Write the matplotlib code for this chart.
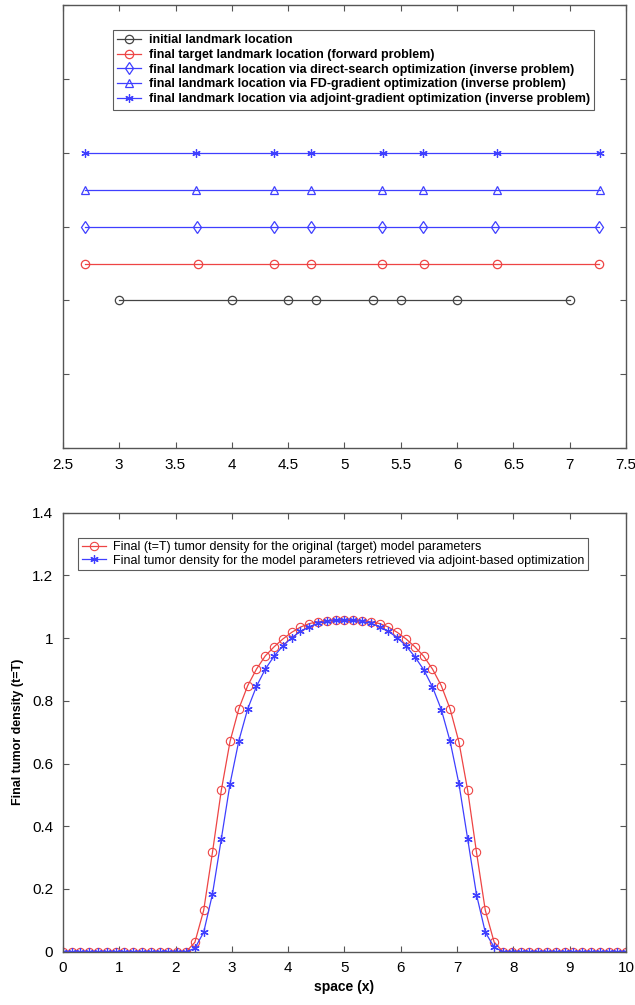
import numpy as np
import matplotlib.pyplot as plt
from matplotlib.ticker import FormatStrFormatter, MultipleLocator

plt.rcParams['font.family'] = ['Liberation Sans', 'DejaVu Sans']

# ---- top panel: landmark locations ----
landmark_labels = [
    'initial landmark location',
    'final target landmark location (forward problem)',
    'final landmark location via direct-search optimization (inverse problem)',
    'final landmark location via FD-gradient optimization (inverse problem)',
    'final landmark location via adjoint-gradient optimization (inverse problem)',
]
initial_x = [3.0, 4.0, 4.5, 4.75, 5.25, 5.5, 6.0, 7.0]
target_x = [2.695, 3.70, 4.37, 4.70, 5.33, 5.71, 6.35, 7.26]
direct_x = [2.695, 3.69, 4.37, 4.70, 5.33, 5.70, 6.34, 7.26]
fd_x = [2.695, 3.68, 4.37, 4.70, 5.33, 5.70, 6.35, 7.27]
adjoint_x = [2.695, 3.68, 4.37, 4.70, 5.34, 5.70, 6.35, 7.27]
row_level = [2.0, 2.5, 3.0, 3.5, 4.0]

# ---- bottom panel: final tumor density ----
space_x = np.linspace(0, 10, 65)
target_density = [0] * 15 + [
    0.030, 0.132, 0.317, 0.514, 0.671, 0.775, 0.848, 0.901, 0.943, 0.972,
    0.997, 1.018, 1.035, 1.046, 1.052, 1.055, 1.057, 1.057, 1.057, 1.055,
    1.052, 1.046, 1.035, 1.018, 0.997, 0.972, 0.942, 0.901, 0.848, 0.774,
    0.669, 0.514, 0.317, 0.132, 0.031] + [0] * 15
adjoint_density = [0] * 15 + [
    0.011, 0.062, 0.184, 0.359, 0.536, 0.673, 0.774, 0.846, 0.901, 0.942,
    0.975, 1.001, 1.021, 1.036, 1.047, 1.053, 1.056, 1.057, 1.056, 1.053,
    1.047, 1.036, 1.021, 1.001, 0.975, 0.940, 0.899, 0.844, 0.772, 0.671,
    0.536, 0.359, 0.182, 0.062, 0.015] + [0] * 15
density_labels = [
    'Final (t=T) tumor density for the original (target) model parameters',
    'Final tumor density for the model parameters retrieved via adjoint-based optimization',
]

red = '#ee4444'
blue = '#3f3fff'
grey = '#555555'

fig = plt.figure(figsize=(6.35, 10.05), dpi=100)
ax1 = fig.add_axes([0.099, 0.554, 0.887, 0.441])
ax2 = fig.add_axes([0.099, 0.053, 0.887, 0.437])

def style_axes(ax):
    ax.tick_params(direction='in', top=True, right=True, length=4,
                   width=0.8, color=grey, labelsize=11, pad=7)
    for s in ax.spines.values():
        s.set_color(grey)
        s.set_linewidth(1.0)

# top panel
series = [initial_x, target_x, direct_x, fd_x, adjoint_x]
colors = ['#444444', red, blue, blue, blue]
markers = ['o', 'o', 'd', '^', (6, 2, 0)]
for xs, lvl, c, m, lab in zip(series, row_level, colors, markers, landmark_labels):
    ax1.plot(xs, [lvl] * len(xs), color=c, lw=0.9, marker=m, ms=6,
             mfc='none', mec=c, mew=0.9, label=lab)
ax1.set_xlim(2.5, 7.5)
ax1.set_ylim(0, 6)
ax1.xaxis.set_major_locator(MultipleLocator(0.5))
ax1.xaxis.set_major_formatter(FormatStrFormatter('%g'))
ax1.yaxis.set_major_locator(MultipleLocator(1))
ax1.set_yticklabels([])
style_axes(ax1)
leg1 = ax1.legend(loc='upper left', bbox_to_anchor=(0.089, 0.944),
                  prop={'size': 9, 'weight': 'bold'}, frameon=True,
                  fancybox=False, edgecolor='#333333', handlelength=1.9,
                  borderpad=0.35, labelspacing=0.22, handletextpad=0.6,
                  borderaxespad=0)
leg1.get_frame().set_linewidth(0.8)

# bottom panel
ax2.plot(space_x, target_density, color=red, lw=0.9, marker='o', ms=6,
         mfc='none', mec=red, mew=0.8, label=density_labels[0])
ax2.plot(space_x, adjoint_density, color=blue, lw=0.9, marker=(6, 2, 0), ms=6,
         mec=blue, mew=0.9, label=density_labels[1])
ax2.set_xlim(0, 10)
ax2.set_ylim(0, 1.4)
ax2.xaxis.set_major_locator(MultipleLocator(1))
ax2.yaxis.set_major_locator(MultipleLocator(0.2))
ax2.yaxis.set_major_formatter(FormatStrFormatter('%g'))
ax2.set_xlabel('space (x)', fontsize=10, fontweight='bold', labelpad=3)
ax2.set_ylabel('Final tumor density (t=T)', fontsize=9, fontweight='bold', labelpad=6)
style_axes(ax2)
leg2 = ax2.legend(loc='upper left', bbox_to_anchor=(0.027, 0.943),
                  prop={'size': 9}, frameon=True, fancybox=False,
                  edgecolor='#333333', handlelength=1.9, borderpad=0.3,
                  labelspacing=0.1, handletextpad=0.6, borderaxespad=0)
leg2.get_frame().set_linewidth(0.8)

fig.savefig('out.png', dpi=100)
